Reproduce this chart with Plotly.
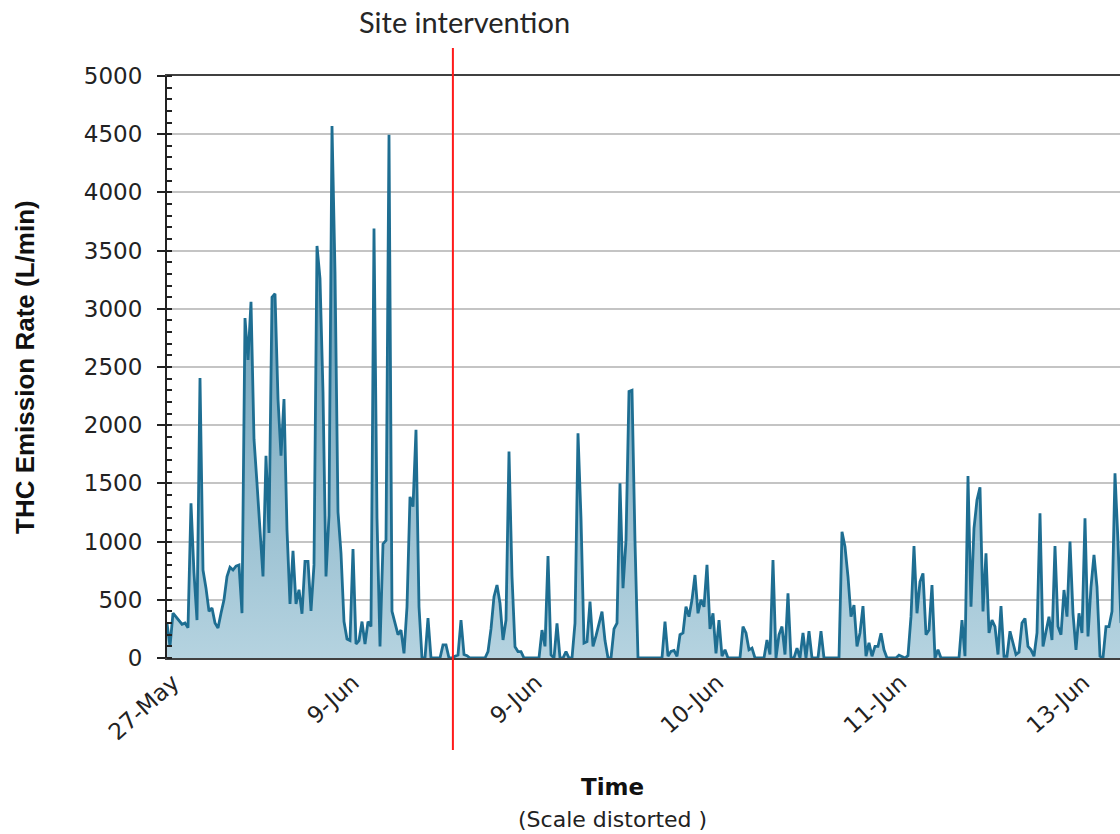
import numpy as np
import plotly.graph_objects as go

# THC emission rate samples (L/min), evenly spaced samples along a distorted time axis
emission = [
    300, 100, 385, 350, 320, 290, 300, 260, 1330, 730,
    326, 2405, 756, 600, 400, 430, 300, 258, 385, 500,
    700, 780, 756, 790, 800, 385, 2920, 2560, 3060, 1880,
    1500, 1130, 700, 1738, 1075, 3100, 3130, 2225, 1738, 2225,
    1100, 465, 920, 465, 587, 380, 830, 830, 405, 800,
    3540, 3260, 2285, 700, 1223, 4571, 3316, 1254, 900, 313,
    163, 150, 936, 120, 150, 313, 120, 313, 270, 3690,
    1200, 100, 980, 1010, 4495, 400, 300, 200, 240, 40,
    440, 1385, 1300, 1960, 440, 0, 0, 343, 0, 0,
    0, 0, 112, 112, 0, 0, 15, 26, 326, 30,
    20, 0, 0, 0, 0, 0, 0, 55, 250, 527,
    627, 470, 155, 326, 1773, 700, 97, 55, 55, 0,
    0, 0, 0, 0, 0, 240, 100, 876, 26, 0,
    298, 0, 0, 55, 0, 0, 300, 1930, 1200, 128,
    140, 484, 100, 190, 300, 398, 150, 0, 0, 250,
    300, 1500, 600, 1013, 2290, 2300, 1000, 0, 0, 0,
    0, 0, 0, 0, 0, 0, 312, 15, 57, 65,
    15, 200, 215, 440, 355, 500, 713, 384, 500, 440,
    800, 250, 384, 40, 326, 15, 70, 0, 0, 0,
    0, 0, 270, 215, 70, 85, 0, 0, 0, 0,
    155, 30, 842, 0, 200, 270, 30, 555, 0, 0,
    85, 0, 215, 0, 230, 0, 0, 0, 230, 0,
    0, 0, 0, 0, 0, 1085, 956, 700, 355, 455,
    100, 215, 445, 15, 130, 15, 100, 100, 212, 70,
    0, 0, 0, 0, 25, 10, 0, 20, 355, 962,
    384, 655, 727, 200, 240, 627, 0, 70, 0, 0,
    0, 0, 0, 0, 0, 326, 15, 1563, 440, 1114,
    1357, 1466, 400, 900, 215, 326, 270, 30, 445, 15,
    15, 230, 120, 30, 50, 300, 340, 100, 70, 15,
    215, 1243, 100, 215, 355, 155, 962, 270, 200, 584,
    355, 1000, 384, 70, 384, 215, 1200, 185, 612, 885,
    612, 15, 0, 270, 270, 400, 1587, 1000, 300,
]

# category tick labels and the sample index at which each appears
tick_labels = ["27-May", "9-Jun", "9-Jun", "10-Jun", "11-Jun", "13-Jun"]
tick_samples = [2, 62, 123, 183.5, 244.5, 305.5]

# sample index of the site intervention
intervention_sample = 95.3

sample = np.arange(len(emission))

fig = go.Figure()
fig.add_trace(go.Scatter(
    x=sample, y=emission, mode="lines",
    line=dict(color="#1e6e92", width=2.8),
    fill="tozeroy",
    fillgradient=dict(type="vertical", start=0, stop=5000,
                      colorscale=[[0, "#b5d3e0"], [1, "#4686a4"]]),
    showlegend=False, hoverinfo="skip",
))

fig.add_shape(type="line", xref="x", yref="paper",
              x0=intervention_sample, x1=intervention_sample,
              y0=-0.158, y1=1.048,
              line=dict(color="#ff1a1a", width=2))

fig.add_annotation(text="Site intervention", xref="x", yref="paper",
                   x=intervention_sample, y=1.093, xshift=12,
                   showarrow=False, xanchor="center", yanchor="middle",
                   font=dict(family="Lato", size=29, color="#262626"))

fig.add_annotation(text="<b>THC Emission Rate (L/min)</b>", xref="paper", yref="paper",
                   x=-0.149, y=0.5, textangle=-90, showarrow=False,
                   xanchor="center", yanchor="middle",
                   font=dict(family="Liberation Sans", size=26, color="#111"))

fig.add_annotation(text="<b>Time</b>", xref="paper", yref="paper",
                   x=0.467, y=-0.2216, showarrow=False,
                   xanchor="center", yanchor="middle",
                   font=dict(family="DejaVu Sans", size=23, color="#111"))
fig.add_annotation(text="(Scale distorted )", xref="paper", yref="paper",
                   x=0.467, y=-0.278, showarrow=False,
                   xanchor="center", yanchor="middle",
                   font=dict(family="DejaVu Sans", size=22, color="#222"))

fig.update_layout(
    width=1120, height=834, autosize=False,
    margin=dict(l=167, r=0, t=76, b=176),
    plot_bgcolor="white", paper_bgcolor="white",
    xaxis=dict(
        range=[0, 317.67], tickmode="array", tickvals=tick_samples, ticktext=tick_labels,
        tickangle=-42, tickfont=dict(family="DejaVu Sans", size=23, color="#222"),
        showline=True, linecolor="#404040", linewidth=2, mirror=True,
        ticks="", showgrid=False, zeroline=False, automargin=False,
    ),
    yaxis=dict(
        range=[0, 5000], dtick=500, tick0=0,
        tickfont=dict(family="DejaVu Sans", size=23, color="#222"),
        showgrid=True, gridcolor="#c4c4c4", gridwidth=1.6,
        showline=True, linecolor="#222", linewidth=2,
        ticks="outside", ticklen=8, tickwidth=1.5, tickcolor="#222",
        ticklabelstandoff=10,
        minor=dict(dtick=100, ticks="inside", ticklen=5, tickwidth=1.5,
                   tickcolor="#222", showgrid=False),
        zeroline=False, automargin=False,
    ),
)

fig.write_html(
    "out.html",
    config={"displayModeBar": False},
    post_script="document.body.style.margin='0';document.body.style.overflow='hidden';",
)
